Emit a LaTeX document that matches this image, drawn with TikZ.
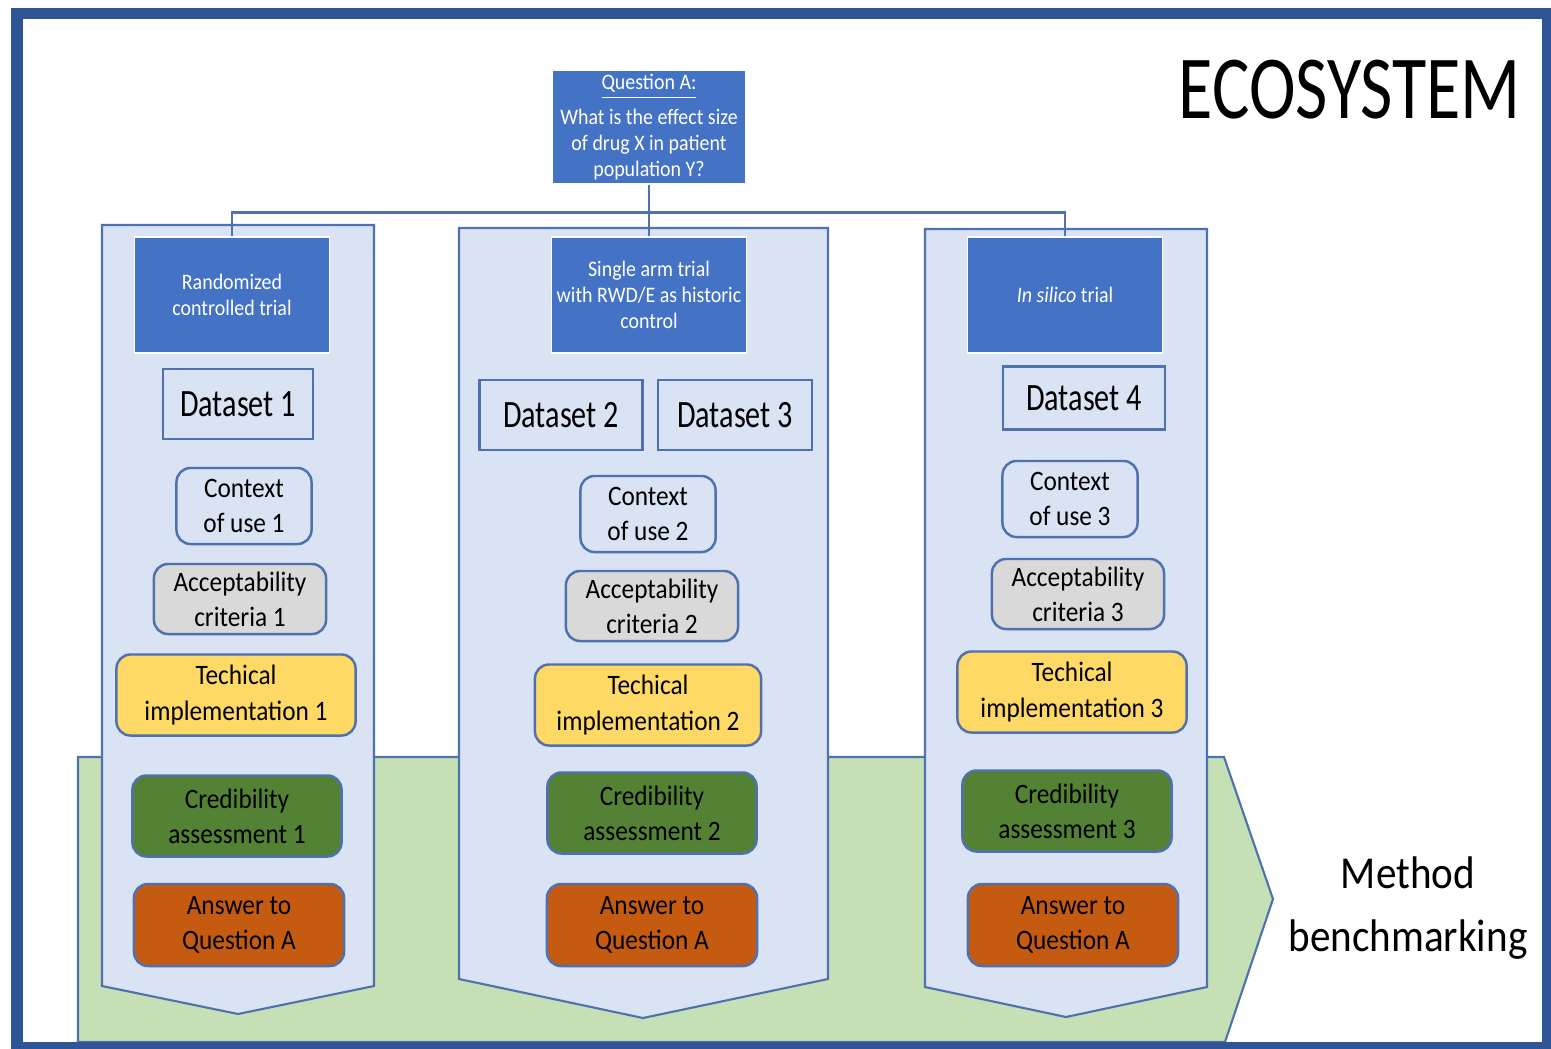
\documentclass[tikz,border=0pt]{standalone}
\usepackage{fontspec}
\setmainfont{Carlito}[FakeStretch=0.9]
\newfontfamily\narrowfont{Carlito}[FakeStretch=0.78]
\usepackage{tikz}
\usetikzlibrary{positioning}
\usepackage{xcolor}
\definecolor{frameblue}{HTML}{2F5597}
\definecolor{trialblue}{HTML}{4472C4}
\definecolor{edgeblue}{HTML}{4F71B0}
\definecolor{colbg}{HTML}{DAE3F3}
\definecolor{bandgreen}{HTML}{C5E0B4}
\definecolor{accgray}{HTML}{D9D9D9}
\definecolor{techyellow}{HTML}{FFD966}
\definecolor{credgreen}{HTML}{548235}
\definecolor{ansorange}{HTML}{C55A11}

\begin{document}
\begin{tikzpicture}[x=0.01cm, y=-0.01cm,
    trialnode/.style={rectangle, draw=white, fill=trialblue, text=white, line width=0.4pt, inner sep=1pt, align=center, font=\fontsize{6.3}{7.4}\selectfont, minimum width=1.95cm, minimum height=1.16cm},
    datanode/.style={rectangle, draw=edgeblue, fill=colbg, line width=0.7pt, font=\narrowfont\fontsize{11}{13}\selectfont, minimum height=0.7cm},
    roundbox/.style={rectangle, rounded corners=4pt, draw=edgeblue, line width=0.7pt, inner sep=2pt, align=center, font=\fontsize{8}{10}\selectfont},
    ctxnode/.style={roundbox, fill=colbg, minimum width=1.35cm, minimum height=0.76cm},
    accnode/.style={roundbox, fill=accgray, minimum width=1.72cm, minimum height=0.7cm},
    technode/.style={roundbox, fill=techyellow, minimum height=0.81cm},
    crednode/.style={roundbox, fill=credgreen, minimum width=2.09cm, minimum height=0.81cm},
    ansnode/.style={roundbox, fill=ansorange, minimum width=2.1cm, minimum height=0.82cm},
    column/.style={fill=colbg, draw=edgeblue, line width=0.6pt},
    link/.style={draw=edgeblue, line width=0.8pt},
    ]
    \useasboundingbox (0,0) rectangle (1551,1048);
    \fill[white] (0,0) rectangle (1551,1048);

    %Background shapes
    \filldraw[fill=bandgreen, draw=edgeblue, line width=0.6pt] (78,757) -- (1224,757) -- (1273,899) -- (1225,1042) -- (78,1042) -- cycle;
    \filldraw[column] (102,225) -- (374,225) -- (374,986) -- (238,1014) -- (102,986) -- cycle;
    \filldraw[column] (459,228) -- (828,228) -- (828,979) -- (643,1018) -- (459,979) -- cycle;
    \filldraw[column] (925,229) -- (1207,229) -- (1207,987) -- (1066,1017) -- (925,987) -- cycle;
    \draw[frameblue, line width=0.11cm] (17,13.5) rectangle (1547,1047);

    %Nodes
    \node[trialnode, minimum width=1.94cm, minimum height=1.14cm] (quest) at (649,127)
        {\underline{Question A:}\\[2.5pt] What is the effect size\\of drug X in patient\\population Y?};
    \node[trialnode] (trial1) at (232,295) {Randomized\\controlled trial};
    \node[trialnode] (trial2) at (649,295) {Single arm trial\\with RWD/E as historic\\control};
    \node[trialnode] (trial3) at (1065,295) {\textit{In silico} trial};

    \node[datanode, minimum width=1.50cm] (data1) at (238,404) {Dataset 1};
    \node[datanode, minimum width=1.63cm] (data2) at (561,415) {Dataset 2};
    \node[datanode, minimum width=1.54cm] (data3) at (735,415) {Dataset 3};
    \node[datanode, minimum width=1.62cm, minimum height=0.63cm] (data4) at (1084,398) {Dataset 4};

    \node[ctxnode] (ctx1) at (244,506) {Context\\of use 1};
    \node[ctxnode] (ctx2) at (648,514) {Context\\of use 2};
    \node[ctxnode] (ctx3) at (1070,499) {Context\\of use 3};

    \node[accnode] (acc1) at (240,599) {Acceptability\\criteria 1};
    \node[accnode] (acc2) at (652,606) {Acceptability\\criteria 2};
    \node[accnode] (acc3) at (1078,594) {Acceptability\\criteria 3};

    \node[technode, minimum width=2.39cm] (tech1) at (236,695) {Techical\\implementation 1};
    \node[technode, minimum width=2.26cm] (tech2) at (648,705) {Techical\\implementation 2};
    \node[technode, minimum width=2.29cm] (tech3) at (1072,692) {Techical\\implementation 3};

    \node[crednode] (cred1) at (237,816) {Credibility\\assessment 1};
    \node[crednode] (cred2) at (652,813) {Credibility\\assessment 2};
    \node[crednode] (cred3) at (1067,811) {Credibility\\assessment 3};

    \node[ansnode] (ans1) at (239,925) {Answer to\\Question A};
    \node[ansnode] (ans2) at (652,925) {Answer to\\Question A};
    \node[ansnode] (ans3) at (1073,925) {Answer to\\Question A};

    \node[font=\narrowfont\fontsize{25.6}{30}\selectfont, inner sep=0pt] (eco) at (1350,90) {ECOSYSTEM};
    \node[align=center, font=\fontsize{13}{17.8}\selectfont] (bench) at (1408,908) {Method\\benchmarking};

    %Lines
    \draw[link] (quest.south) -- ++(0,28) -| (trial1.north);
    \draw[link] (quest.south) -- ++(0,28) -| (trial3.north);
    \draw[link] (quest.south) -- (trial2.north);
\end{tikzpicture}
\end{document}
